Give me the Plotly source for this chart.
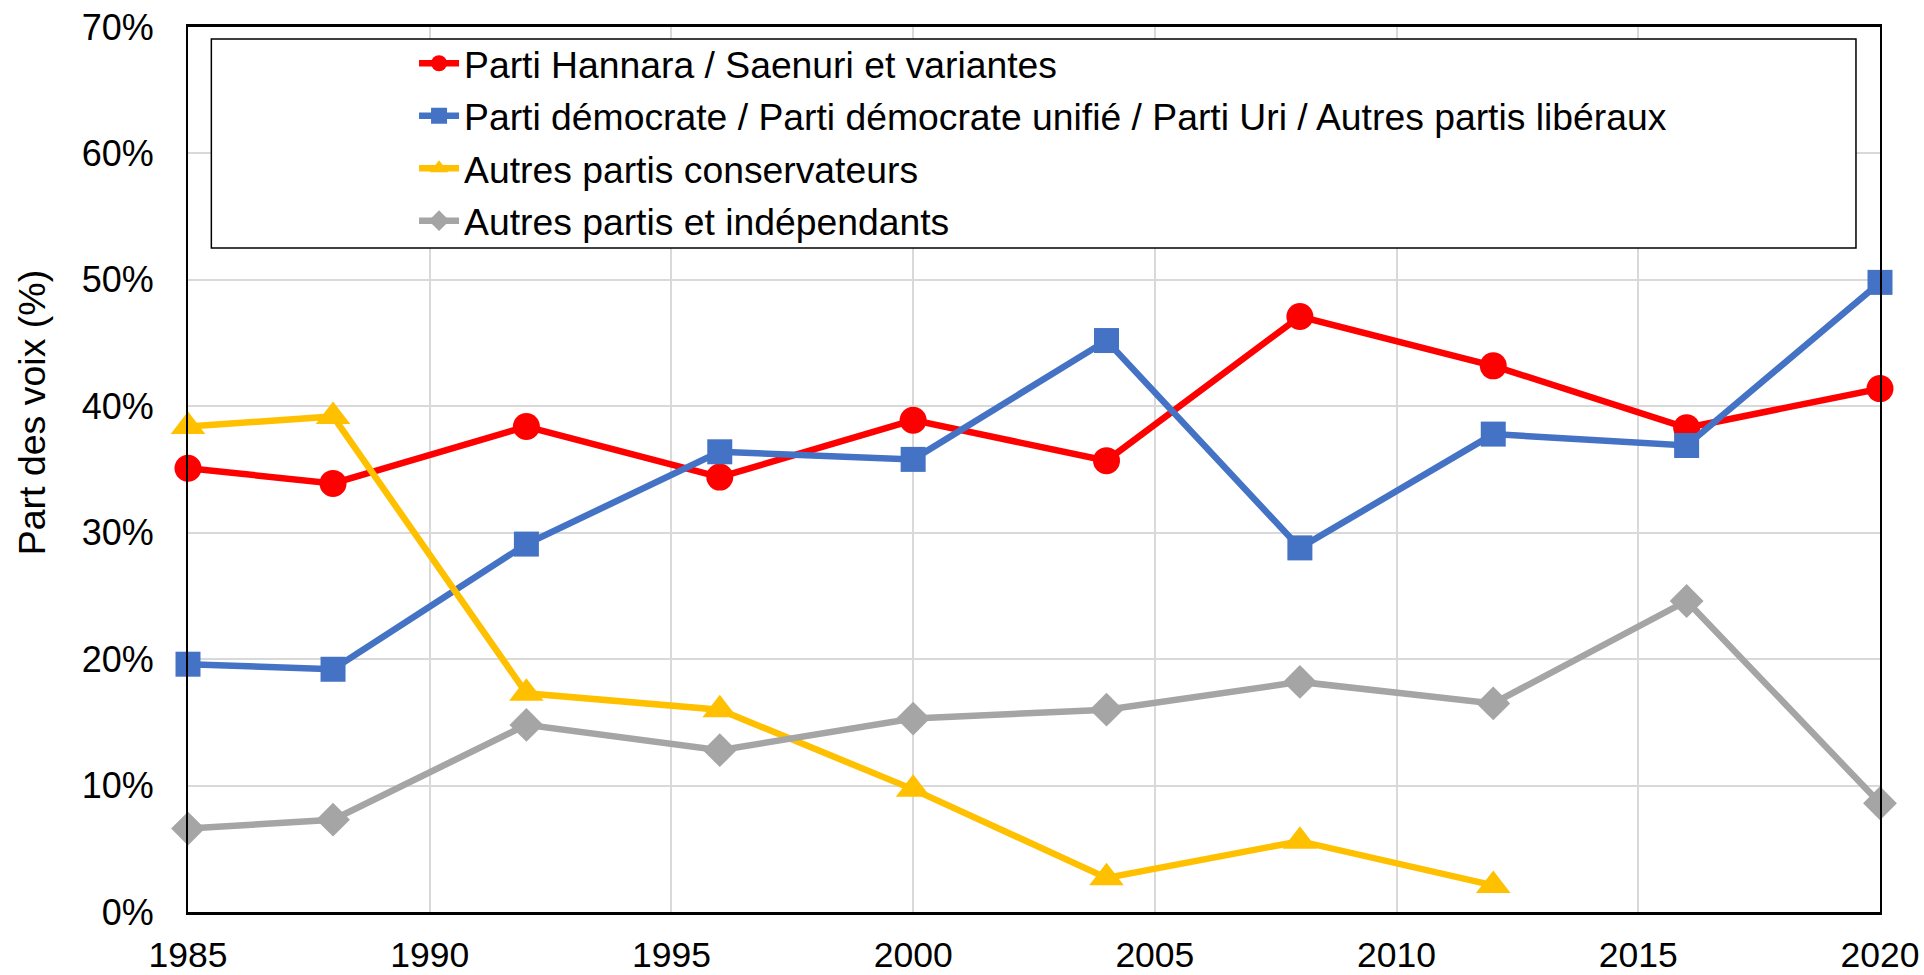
import plotly.graph_objects as go

years = [1985, 1988, 1992, 1996, 2000, 2004, 2008, 2012, 2016, 2020]
hannara = [35.1, 33.9, 38.4, 34.4, 38.9, 35.7, 47.1, 43.2, 38.3, 41.4]
democrate = [19.6, 19.2, 29.1, 36.4, 35.8, 45.2, 28.8, 37.8, 36.9, 49.8]
conservateurs = [38.4, 39.2, 17.3, 16.0, 9.7, 2.7, 5.6, 2.1]
autres = [6.6, 7.3, 14.8, 12.8, 15.3, 16.0, 18.2, 16.5, 24.6, 8.6]

names = [
    "Parti Hannara / Saenuri et variantes",
    "Parti démocrate / Parti démocrate unifié / Parti Uri / Autres partis libéraux",
    "Autres partis conservateurs",
    "Autres partis et indépendants",
]
colors = ["#FF0000", "#4472C4", "#FFC000", "#A5A5A5"]
symbols = ["circle", "square", "triangle-up", "diamond"]
sizes = [27, 25, 30, 26]
series = [hannara, democrate, conservateurs, autres]

FONT = "Arial, Liberation Sans, sans-serif"

fig = go.Figure()
for i, (nm, col, sym, sz, vals) in enumerate(zip(names, colors, symbols, sizes, series)):
    fig.add_trace(go.Scatter(
        x=years[:len(vals)], y=vals, name=nm, mode="lines+markers",
        line=dict(color=col, width=6.5),
        marker=dict(symbol=sym, size=sz, color=col),
        legendgroup=f"g{i}", cliponaxis=False,
    ))

fig.update_layout(
    width=1924, height=975,
    margin=dict(l=188, r=44, t=27, b=63),
    paper_bgcolor="white", plot_bgcolor="white",
    font=dict(family=FONT, size=36, color="black"),
    showlegend=True,
    legend=dict(
        x=0.1336, y=0.9938, xanchor="left", yanchor="top",
        bgcolor="rgba(0,0,0,0)", borderwidth=0,
        font=dict(family=FONT, size=37.3, color="black"),
        traceorder="grouped", tracegroupgap=1, itemwidth=40,
    ),
    xaxis=dict(
        range=[1985, 2020], tickmode="linear", tick0=1985, dtick=5,
        showgrid=True, gridcolor="#D9D9D9", gridwidth=1.5,
        showline=True, linecolor="black", linewidth=3, mirror=True,
        ticks="", ticklabelstandoff=9, ticklabeloverflow="allow", automargin=False,
        tickfont=dict(family=FONT, size=35.5, color="black"), zeroline=False,
    ),
    yaxis=dict(
        range=[0, 70], tickmode="linear", tick0=0, dtick=10, ticksuffix="%",
        showgrid=True, gridcolor="#D9D9D9", gridwidth=1.5,
        showline=True, linecolor="black", linewidth=2, mirror=True,
        ticks="", ticklabelstandoff=25, ticklabeloverflow="allow", automargin=False,
        tickfont=dict(family=FONT, size=36, color="black"), zeroline=False,
    ),
    annotations=[dict(
        text="Part des voix (%)", xref="paper", yref="paper",
        x=-0.092, y=0.565, xanchor="center", yanchor="middle",
        textangle=-90, showarrow=False,
        font=dict(family=FONT, size=37.5, color="black"),
    )],
    shapes=[dict(
        type="rect", xref="paper", yref="paper",
        x0=0.0138, x1=0.9858, y0=0.7503, y1=0.9864,
        line=dict(color="black", width=1.5), fillcolor="white", layer="above",
    )],
)

fig.write_html("out.html", config={"displayModeBar": False},
               post_script="document.body.style.margin='0';document.documentElement.style.overflow='hidden';")
